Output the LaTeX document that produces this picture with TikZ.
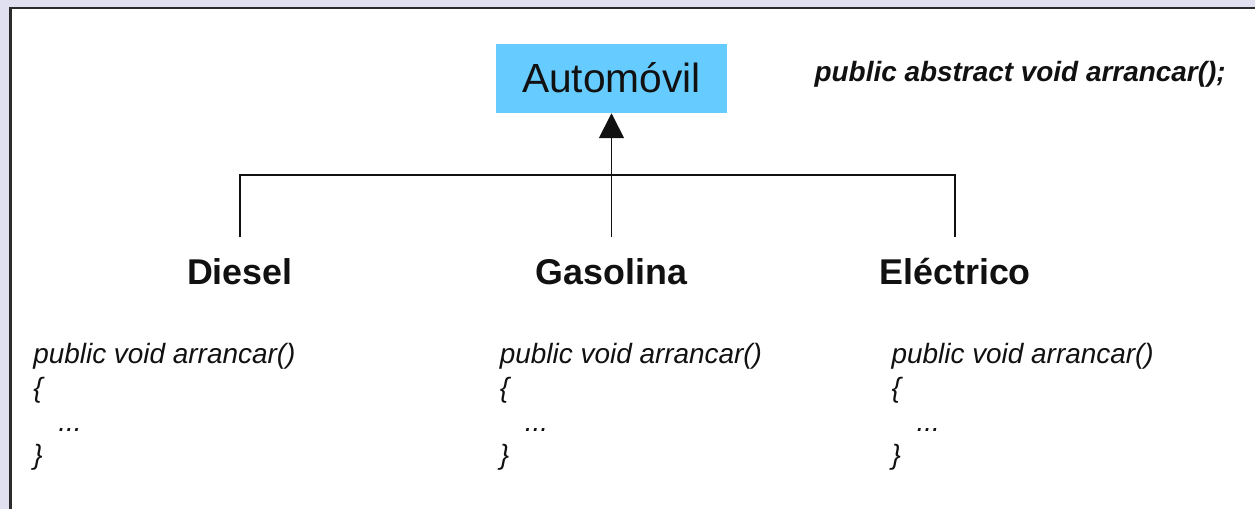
\documentclass[tikz,border=0pt]{standalone}
\usepackage{fontspec}
\setmainfont{Liberation Sans}
\usetikzlibrary{arrows.meta}
\definecolor{ink}{HTML}{111111}
\definecolor{frameInk}{HTML}{2B2B2B}
\definecolor{pageBack}{HTML}{E0E0F0}
\definecolor{classFill}{HTML}{66CCFF}
\tikzset{
    >={Triangle[length=5mm,width=5mm]},
    baseclass/.style={fill=classFill, minimum width=4.64cm, minimum height=1.38cm,
                      inner sep=0pt, text height=0.56cm, text depth=0pt,
                      font=\fontsize{23.2}{27}\selectfont, text=ink},
    subclass/.style={font=\bfseries\fontsize{20.4}{24}\selectfont, text=ink,
                     anchor=base, inner xsep=0pt, inner ysep=0.42cm,
                     text height=0.52cm, text depth=0.14cm},
    signature/.style={font=\bfseries\itshape\fontsize{15.9}{19}\selectfont,
                      text=ink, anchor=base},
    code/.style={font=\itshape\fontsize{15.9}{19.3}\selectfont, text=ink,
                 align=left, anchor=north west, inner sep=0pt},
    tree/.style={draw=ink, line width=1pt},
    inherits/.style={tree, ->},
}

\begin{document}
\begin{tikzpicture}[x=0.02cm, y=-0.02cm]

% ---------------------------------------------------------------------------
% Page background and frame
% ---------------------------------------------------------------------------
\fill[pageBack] (0,0) rectangle (1256,509);
\fill[white] (10.5,8) rectangle (1256,509);
\draw[frameInk, line width=1.2pt] (10.5,509) -- (10.5,8) -- (1256,8);

% ---------------------------------------------------------------------------
% Abstract class and its subclasses
% ---------------------------------------------------------------------------
\node[baseclass] (auto) at (612,78.5) {Automóvil};
\node[signature] (firma) at (1021,82) {public abstract void arrancar();};

\node[subclass] (diesel) at (240,285) {Diesel};
\node[subclass] (gasolina) at (612,285) {Gasolina};
\node[subclass] (electrico) at (956,285) {Eléctrico};

\coordinate (bus) at (612,175);
\draw[tree] (diesel.north) |- (bus) -| (electrico.north);
\draw[inherits] (gasolina.north) -- (auto.south);

% Method bodies
\node[code] (codeDiesel) at (33,343)
    {public void arrancar()\\\{\\\hspace*{0.5cm}...\\\}};
\node[code] (codeGasolina) at (500,343)
    {public void arrancar()\\\{\\\hspace*{0.5cm}...\\\}};
\node[code] (codeElectrico) at (892,343)
    {public void arrancar()\\\{\\\hspace*{0.5cm}...\\\}};

\end{tikzpicture}
\end{document}
